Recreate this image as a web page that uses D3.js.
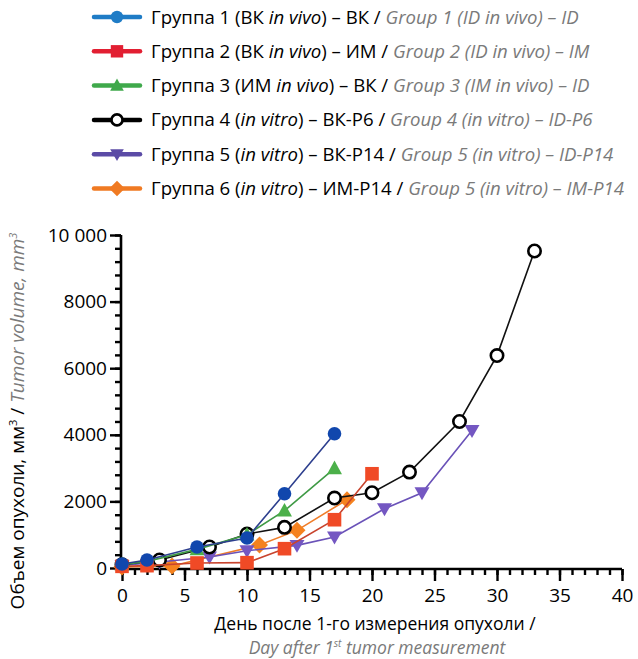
<!DOCTYPE html>
<html>
<head>
<meta charset="utf-8">
<script src="https://cdn.jsdelivr.net/npm/d3@7/dist/d3.min.js"></script>
<style>
  html, body { margin: 0; padding: 0; background: #fff; }
  svg { display: block; font-family: "Open Sans", "Noto Sans", sans-serif; }
</style>
</head>
<body>
<svg id="chart" width="638" height="659"></svg>
<script>
// Tumor growth curves for six groups
const xTicks = [0, 5, 10, 15, 20, 25, 30, 35, 40];
const yTicks = [0, 2000, 4000, 6000, 8000, 10000];

const days1 = [0, 2, 6, 10, 13, 17];
const vol1  = [120, 240, 630, 900, 2230, 4030];
const days2 = [0, 2, 6, 10, 13, 17, 20];
const vol2  = [50, 70, 150, 160, 580, 1450, 2830];
const days3 = [0, 2, 6, 10, 13, 17];
const vol3  = [100, 200, 560, 1000, 1720, 2990];
const days4 = [0, 3, 7, 10, 13, 17, 20, 23, 27, 30, 33];
const vol4  = [100, 240, 630, 1020, 1220, 2100, 2260, 2880, 4400, 6380, 9520];
const days5 = [0, 3, 7, 10, 14, 17, 21, 24, 28];
const vol5  = [80, 180, 330, 520, 680, 930, 1780, 2260, 4130];
const days6 = [0, 4, 11, 14, 18];
const vol6  = [30, 60, 690, 1130, 2050];

const groupRu = [
  ["Группа 1 (ВК ", "in vivo", ") – ВК / "],
  ["Группа 2 (ВК ", "in vivo", ") – ИМ / "],
  ["Группа 3 (ИМ ", "in vivo", ") – ВК / "],
  ["Группа 4 (", "in vitro", ") – ВК-Р6 / "],
  ["Группа 5 (", "in vitro", ") – ВК-Р14 / "],
  ["Группа 6 (", "in vitro", ") – ИМ-Р14 / "]
];
const groupEn = [
  "Group 1 (ID in vivo) – ID",
  "Group 2 (ID in vivo) – IM",
  "Group 3 (IM in vivo) – ID",
  "Group 4 (in vitro) – ID-P6",
  "Group 5 (in vitro) – ID-P14",
  "Group 5 (in vitro) – IM-P14"
];
const legendColors = ["#1f7cc6", "#e21f32", "#3fa94b", "#000000", "#5b4ba6", "#f07a22"];
const markColors   = ["#1147ad", "#f04a26", "#4cb04a", "#000000", "#7457c2", "#f5821f"];
const lineColors   = ["#2d3f8e", "#c8442e", "#3f9a45", "#111111", "#6a52b8", "#ef7d2a"];
const shapes = ["circle", "square", "triangle", "ring", "triangleDown", "diamond"];

const series = [
  { days: days1, vol: vol1 },
  { days: days2, vol: vol2 },
  { days: days3, vol: vol3 },
  { days: days4, vol: vol4 },
  { days: days5, vol: vol5 },
  { days: days6, vol: vol6 }
];

const svg = d3.select("#chart");
const x = d3.scaleLinear().domain([0, 40]).range([122, 622]);
const y = d3.scaleLinear().domain([0, 10000]).range([568, 235]);

function drawMarker(g, shape, cx, cy, color, size) {
  const s = size;
  if (shape === "circle") {
    g.append("circle").attr("cx", cx).attr("cy", cy).attr("r", s).attr("fill", color);
  } else if (shape === "square") {
    g.append("rect").attr("x", cx - s).attr("y", cy - s).attr("width", 2 * s).attr("height", 2 * s).attr("fill", color);
  } else if (shape === "triangle") {
    g.append("path").attr("d", `M${cx},${cy - s * 1.15}L${cx + s * 1.1},${cy + s * 0.85}L${cx - s * 1.1},${cy + s * 0.85}Z`).attr("fill", color);
  } else if (shape === "triangleDown") {
    g.append("path").attr("d", `M${cx},${cy + s * 1.1}L${cx + s * 1.1},${cy - s * 0.8}L${cx - s * 1.1},${cy - s * 0.8}Z`).attr("fill", color);
  } else if (shape === "diamond") {
    g.append("path").attr("d", `M${cx},${cy - s * 1.25}L${cx + s * 1.25},${cy}L${cx},${cy + s * 1.25}L${cx - s * 1.25},${cy}Z`).attr("fill", color);
  } else if (shape === "ring") {
    g.append("circle").attr("cx", cx).attr("cy", cy).attr("r", s).attr("fill", "#fff")
      .attr("stroke", color).attr("stroke-width", 2.6);
  }
}

// Legend
const legend = svg.append("g");
groupRu.forEach((parts, i) => {
  const ly = 17 + i * 34.3;
  const row = legend.append("g");
  row.append("line").attr("x1", 94).attr("x2", 140).attr("y1", ly).attr("y2", ly)
    .attr("stroke", legendColors[i]).attr("stroke-width", 4.5).attr("stroke-linecap", "round");
  drawMarker(row, shapes[i], 117, ly, legendColors[i], shapes[i] === "ring" ? 5.5 : 6.2);
  const t = row.append("text").attr("x", 151).attr("y", ly + 6.5).attr("font-size", 18.6).attr("fill", "#000");
  t.append("tspan").text(parts[0]);
  t.append("tspan").attr("font-style", "italic").text(parts[1]);
  t.append("tspan").text(parts[2]);
  t.append("tspan").attr("font-style", "italic").attr("fill", "#7a7a7a").text(groupEn[i]);
});

// Axes
const axisG = svg.append("g");
const yMinor = d3.range(0, 10001, 400);
const xMinor = d3.range(0, 41, 1);
const tickFont = "'Open Sans', 'Noto Sans', sans-serif";

axisG.append("g").attr("transform", "translate(121,0)")
  .call(d3.axisLeft(y).tickValues(yMinor).tickSize(6).tickFormat(""))
  .call(g => g.select(".domain").remove())
  .call(g => g.selectAll("line").attr("stroke", "#000").attr("stroke-width", 2.4));
axisG.append("g").attr("transform", "translate(121,0)")
  .call(d3.axisLeft(y).tickValues(yTicks).tickSize(11).tickPadding(3)
    .tickFormat(d => d === 10000 ? "10 000" : String(d)))
  .call(g => g.select(".domain").attr("stroke", "#000").attr("stroke-width", 2.6).attr("d", `M0,${y(10000)}V${y(0) + 1}`))
  .call(g => g.selectAll("line").attr("stroke", "#000").attr("stroke-width", 2.4))
  .call(g => g.selectAll("text").attr("font-size", 19).attr("fill", "#000").attr("font-family", tickFont));

axisG.append("g").attr("transform", "translate(0,569)")
  .call(d3.axisBottom(x).tickValues(xMinor).tickSize(6).tickFormat(""))
  .call(g => g.select(".domain").remove())
  .call(g => g.selectAll("line").attr("stroke", "#000").attr("stroke-width", 2.4));
axisG.append("g").attr("transform", "translate(0,569)")
  .call(d3.axisBottom(x).tickValues(xTicks).tickSize(12).tickPadding(8))
  .call(g => g.select(".domain").attr("stroke", "#000").attr("stroke-width", 2.6).attr("d", `M${x(0) - 1.5},0H${x(40)}`))
  .call(g => g.selectAll("line").attr("stroke", "#000").attr("stroke-width", 2.4))
  .call(g => g.selectAll("text").attr("font-size", 19).attr("fill", "#000").attr("font-family", tickFont));

// Series: drawn last-to-first so group 1 sits on top
const plot = svg.append("g");
const line = d3.line().x(d => x(d[0])).y(d => y(d[1]));
for (let i = series.length - 1; i >= 0; i--) {
  const s = series[i];
  const pts = s.days.map((d, k) => [d, s.vol[k]]);
  const g = plot.append("g");
  g.append("path").attr("d", line(pts)).attr("fill", "none")
    .attr("stroke", lineColors[i]).attr("stroke-width", 1.6);
  pts.forEach(p => drawMarker(g, shapes[i], x(p[0]), y(p[1]), markColors[i], shapes[i] === "ring" ? 6.2 : 6.8));
}

// Axis titles
const yTitle = svg.append("text")
  .attr("transform", `translate(24,421) rotate(-90)`)
  .attr("text-anchor", "middle").attr("font-size", 19).attr("fill", "#000");
yTitle.append("tspan").text("Объем опухоли, мм");
yTitle.append("tspan").attr("baseline-shift", "super").attr("font-size", 11).text("3");
yTitle.append("tspan").text(" / ");
yTitle.append("tspan").attr("font-style", "italic").attr("fill", "#7a7a7a").text("Tumor volume, mm");
yTitle.append("tspan").attr("font-style", "italic").attr("fill", "#7a7a7a")
  .attr("baseline-shift", "super").attr("font-size", 11).text("3");

svg.append("text").attr("x", 375).attr("y", 630).attr("text-anchor", "middle")
  .attr("font-size", 17.5).attr("fill", "#000").text("День после 1-го измерения опухоли /");
const xTitle2 = svg.append("text").attr("x", 377).attr("y", 654).attr("text-anchor", "middle")
  .attr("font-size", 17.5).attr("font-style", "italic").attr("fill", "#7a7a7a");
xTitle2.append("tspan").text("Day after 1");
xTitle2.append("tspan").attr("baseline-shift", "super").attr("font-size", 10).text("st");
xTitle2.append("tspan").text(" tumor measurement");
</script>
</body>
</html>
